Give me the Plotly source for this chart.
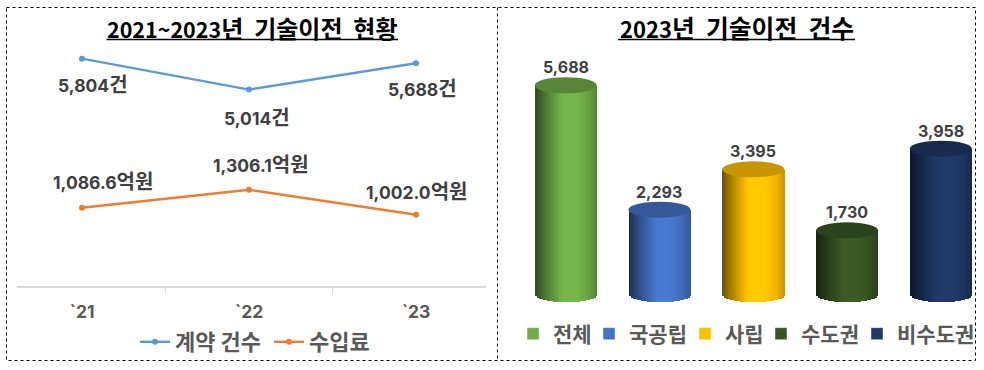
import math
import plotly.graph_objects as go

W, H = 984, 370
KR = "Noto Sans CJK KR"
NUM = "Inter, Noto Sans CJK KR"

# data
years = ["`21", "`22", "`23"]
contracts = [5804, 5014, 5688]
revenue = [1086.6, 1306.1, 1002.0]
contract_labels = ["5,804", "5,014", "5,688"]
revenue_labels = ["1,086.6", "1,306.1", "1,002.0"]
groups = ["전체", "국공립", "사립", "수도권", "비수도권"]
group_values = [5688, 2293, 3395, 1730, 3958]
group_labels = ["5,688", "2,293", "3,395", "1,730", "3,958"]
group_colors = ["#70AD47", "#4472C4", "#FFC000", "#375623", "#1F3864"]


def fx(px):
    return px / W


def fy(px):
    return 1 - px / H


def shade(hex_color, f):
    r, g, b = (min(255, int(hex_color[i:i + 2], 16) * f) for i in (1, 3, 5))
    return f"rgb({int(r)},{int(g)},{int(b)})"


def ramp(t):
    pts = [(0, .42), (.12, .62), (.3, .88), (.45, 1.06), (.68, 1.06), (.88, .92), (1, .76)]
    for (a, fa), (b, fb) in zip(pts, pts[1:]):
        if t <= b:
            return fa + (fb - fa) * (t - a) / (b - a)
    return pts[-1][1]


def hangul(s, size):
    return f'<span style="font-family:{KR};font-size:{size}px">{s}</span>'


fig = go.Figure()

# left line chart
fig.add_trace(go.Scatter(x=years, y=contracts, name="계약 건수", mode="lines+markers", xaxis="x", yaxis="y",
                         line=dict(color="#5B9BD5", width=2.4), marker=dict(size=6, color="#5B9BD5"),
                         legend="legend"))
fig.add_trace(go.Scatter(x=years, y=revenue, name="수입료", mode="lines+markers", xaxis="x", yaxis="y2",
                         line=dict(color="#ED7D31", width=2.4), marker=dict(size=6, color="#ED7D31"),
                         legend="legend2"))

# right cylinders: a horizontal gradient built from narrow overlaid bars
BAR_PX, STEP_PX, CAT_PX = 62, 2, 93.7
BASE_PX, TOP_PX = 304.7, 55.5
Y3_RANGE = [-300, 6500]
px_per_unit = (BASE_PX - TOP_PX) / (Y3_RANGE[1] - Y3_RANGE[0])
RY = 8
n = BAR_PX // STEP_PX
for j in range(n):
    t = (j + .5) / n
    u = 2 * t - 1
    dip = RY * math.sqrt(max(0, 1 - u * u)) / px_per_unit
    fig.add_trace(go.Bar(
        x=groups, y=[v + dip for v in group_values], base=[-dip] * len(groups),
        offset=(-BAR_PX / 2 + j * STEP_PX) / CAT_PX, width=(STEP_PX + 1) / CAT_PX if j < n - 1 else STEP_PX / CAT_PX,
        marker=dict(color=[shade(c, ramp(t)) for c in group_colors], line=dict(width=0)),
        xaxis="x2", yaxis="y3", showlegend=False, hoverinfo="skip"))
for k, (g, c) in enumerate(zip(groups, group_colors)):
    fig.add_trace(go.Bar(x=[None], y=[None], name=g, marker=dict(color=c), xaxis="x2", yaxis="y3", legend=f"legend{k + 3}"))

shapes = []
for g, v, c in zip(groups, group_values, group_colors):
    shapes.append(dict(type="circle", xref="x2", yref="y3", xsizemode="pixel", ysizemode="pixel",
                       xanchor=g, yanchor=v, x0=-BAR_PX / 2, x1=BAR_PX / 2, y0=-RY, y1=RY,
                       fillcolor=shade(c, .78), line=dict(width=0)))

# frame and title rules
dotted = dict(color="black", width=1, dash="dot")
shapes.append(dict(type="rect", xref="paper", yref="paper", x0=fx(6.5), x1=fx(975.5), y0=fy(7.5), y1=fy(360.5), line=dotted))
shapes.append(dict(type="line", xref="paper", yref="paper", x0=fx(497.5), x1=fx(497.5), y0=fy(7.5), y1=fy(360.5), line=dotted))
shapes.append(dict(type="line", xref="paper", yref="paper", x0=fx(106.5), x1=fx(398), y0=fy(39.5), y1=fy(39.5), line=dict(color="black", width=1.6)))
shapes.append(dict(type="line", xref="paper", yref="paper", x0=fx(618), x1=fx(855), y0=fy(39.5), y1=fy(39.5), line=dict(color="black", width=1.6)))

ann = []


def title(text, x, size, dsize):
    ann.append(dict(text=f'<b><span style="font-size:{dsize}px">{text[0]}</span>{text[1]}</b>', xref="paper", yref="paper",
                    x=fx(x), y=fy(27), xanchor="center", yanchor="middle",
                    showarrow=False, font=dict(family=KR, size=size, color="black")))


SP = "\u00a0\u00a0"
title(("2021~2023", f"년{SP}기술이전{SP}현황"), 252, 24, 21.5)
title(("2023", f"년{SP}기술이전{SP}건수"), 736.5, 24.8, 22)

LBL = dict(showarrow=False, xanchor="center", yanchor="middle")
for x, v, t, dx, dy in zip(years, contracts, contract_labels, [11, 8, 6], [-25, -27, -24]):
    ann.append(dict(text=f"<b>{t}{hangul('건', 20)}</b>", x=x, y=v, xref="x", yref="y", xshift=dx, yshift=dy,
                    font=dict(family=NUM, size=17.5, color="#404040"), **LBL))
for x, v, t, dx, dy in zip(years, revenue, revenue_labels, [21, 12, 0], [27, 26, 24.5]):
    ann.append(dict(text=f"<b>{t}{hangul('억원', 20)}</b>", x=x, y=v, xref="x", yref="y2", xshift=dx, yshift=dy,
                    font=dict(family=NUM, size=17.5, color="#404040"), **LBL))
for x, v, t in zip(groups, group_values, group_labels):
    ann.append(dict(text=f"<b>{t}</b>", x=x, y=v, xref="x2", yref="y3", yshift=18,
                    font=dict(family=NUM, size=16, color="#404040"), **LBL))


def legend_at(x_px, y_px, size=21):
    return dict(orientation="h", x=fx(x_px), y=fy(y_px), xanchor="left", yanchor="middle",
                bgcolor="rgba(0,0,0,0)", font=dict(family=KR, size=size, color="#595959", weight="bold"), itemclick=False)


fig.update_layout(
    width=W, height=H, margin=dict(l=0, r=0, t=0, b=0, autoexpand=False), autosize=False,
    paper_bgcolor="white", plot_bgcolor="white", barmode="overlay", bargap=0,
    font=dict(family=KR), shapes=shapes, annotations=ann, hovermode=False,
    xaxis=dict(domain=[fx(17), fx(486)], anchor="y", type="category", range=[-0.389, 2.419], showgrid=False,
               showline=True, linecolor="#D9D9D9", linewidth=2, ticks="outside", tickcolor="#D9D9D9", ticklen=5, tickwidth=1,
               tickson="boundaries", ticklabelstandoff=9,
               tickfont=dict(family="Inter", size=17.5, color="#595959", weight="bold")),
    yaxis=dict(domain=[fy(286), fy(51)], range=[0, 6000], visible=False),
    yaxis2=dict(domain=[fy(286), fy(51)], range=[132, 3000], overlaying="y", visible=False),
    xaxis2=dict(domain=[fx(518.8), 1], anchor="y3", type="category", range=[-0.5, 4.46], visible=False),
    yaxis3=dict(domain=[fy(BASE_PX), fy(TOP_PX)], range=Y3_RANGE, anchor="x2", visible=False),
    legend=legend_at(135, 342, 22),
    legend2=legend_at(269, 342, 22),
    legend3=legend_at(513, 334),
    legend4=legend_at(589, 334),
    legend5=legend_at(685, 334),
    legend6=legend_at(761, 334),
    legend7=legend_at(857, 334),
)
fig.write_html("out.html", config=dict(displayModeBar=False),
               post_script="document.body.style.margin='0';document.documentElement.style.overflow='hidden';")
